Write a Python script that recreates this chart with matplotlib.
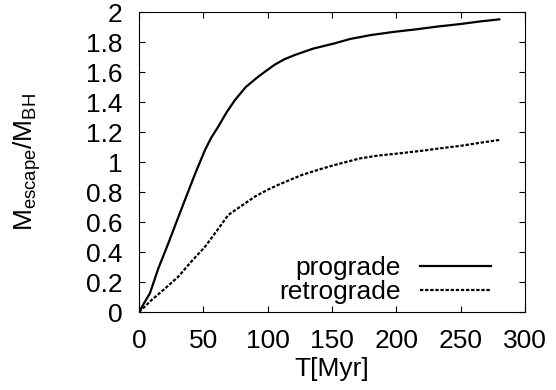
import numpy as np
import matplotlib
matplotlib.use('Agg')
import matplotlib.pyplot as plt

plt.rcParams['font.family'] = ['Liberation Sans', 'DejaVu Sans']
plt.rcParams['mathtext.default'] = 'regular'

# prograde orbit
t_pro = [0, 4, 8.5, 15, 22.8, 30, 35.7, 44, 51.3, 56, 61.6, 68, 74.6, 83, 92.7, 100, 105.7, 113, 121,
         135, 152, 164, 180, 197.6, 215, 231, 250, 265, 280]
m_pro = [0, 0.06, 0.125, 0.29, 0.458, 0.62, 0.747, 0.93, 1.08, 1.16, 1.236, 1.33, 1.413, 1.50, 1.569, 1.615, 1.65,
         1.685, 1.713, 1.755, 1.791, 1.82, 1.846, 1.867, 1.884, 1.902, 1.92, 1.937, 1.951]

# retrograde orbit
t_retro = [0, 5, 9.8, 20, 30.5, 40, 51.3, 59, 69.4, 80, 90, 100, 108, 120, 126.4, 140, 152, 171.7,
           185, 202.8, 220, 233.9, 250, 265, 280]
m_retro = [0, 0.04, 0.08, 0.155, 0.235, 0.33, 0.435, 0.524, 0.647, 0.71, 0.769, 0.815, 0.847, 0.89, 0.913,
           0.95, 0.98, 1.024, 1.042, 1.058, 1.075, 1.091, 1.108, 1.128, 1.147]

fig = plt.figure(figsize=(5.56, 3.9), dpi=100)
ax = fig.add_axes([139/556., 1 - 312/390., (525-139)/556., (312-12)/390.])

ax.plot(t_pro, m_pro, color='black', lw=1.6, label='prograde')
ax.plot(t_retro, m_retro, color='black', lw=1.6, dashes=(1.5, 0.8), label='retrograde')

ax.set_xlim(0, 300)
ax.set_ylim(0, 2)
ax.set_xticks(np.arange(0, 301, 50))
ax.set_yticks(np.arange(0, 2.01, 0.2))
ax.set_yticklabels(['0', '0.2', '0.4', '0.6', '0.8', '1', '1.2', '1.4', '1.6', '1.8', '2'])
ax.tick_params(direction='in', top=True, right=True, length=4.5, width=0.8, labelsize=19)
ax.tick_params(axis='x', pad=12)
ax.tick_params(axis='y', pad=12)

ax.set_xlabel('T[Myr]', fontsize=19, labelpad=3)
ax.set_ylabel(r'M$_{escape}$/M$_{BH}$', fontsize=19, labelpad=31)

ax.legend(loc='lower right', bbox_to_anchor=((491-139)/386., 0.025), frameon=False, fontsize=19,
          markerfirst=False, handlelength=2.7, handletextpad=0.72, labelspacing=0.0,
          borderpad=0.0, borderaxespad=0.0)

fig.savefig('out.png', dpi=100)
